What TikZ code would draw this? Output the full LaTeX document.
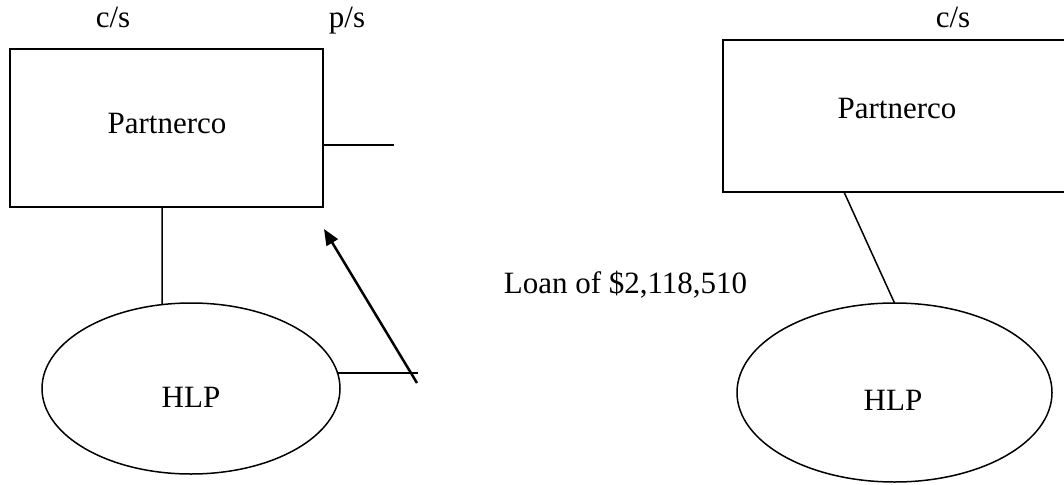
\documentclass[tikz,border=0pt]{standalone}
\usepackage{fontspec}
\setmainfont{Liberation Serif}
\usetikzlibrary{shapes.geometric,arrows.meta}
\begin{document}
\begin{tikzpicture}[x=1pt,y=-1pt,
  font=\fontsize{31}{37}\selectfont,
  shapeline/.style={line width=1.5pt},
  boxshape/.style={draw,shapeline,rectangle,inner sep=0pt,outer sep=0pt},
  ovalshape/.style={draw,shapeline,ellipse,inner sep=0pt,outer sep=0pt},
  lbl/.style={anchor=base,inner sep=0pt},
  link/.style={line width=1.5pt},
  bigarrow/.style={line width=2.5pt,-{Triangle[length=16pt,width=13pt]}}]
\useasboundingbox (0,0) rectangle (1064,484);
\clip (0,0) rectangle (1064,484);
% shapes
\node[boxshape,minimum width=313pt,minimum height=158pt] (lbox) at (166.5,128) {};
\node[boxshape,minimum width=350pt,minimum height=152pt] (rbox) at (898,116) {};
\node[ovalshape,minimum width=298pt,minimum height=171pt] (lhlp) at (191,388.5) {};
\node[ovalshape,minimum width=315pt,minimum height=179pt] (rhlp) at (894.5,392.5) {};
% texts
\node[lbl] (lcs) at (113,28) {c/s};
\node[lbl] (lps) at (347,28) {p/s};
\node[lbl] (rcs) at (953,28) {c/s};
\node[lbl] (lpart) at (167,133) {Partnerco};
\node[lbl] (rpart) at (897,118) {Partnerco};
\node[lbl] (lhlpt) at (191,407) {HLP};
\node[lbl] (rhlpt) at (893,410) {HLP};
\node[lbl] (loan) at (625.5,293) {Loan of \$2,118,510};
% connectors
\coordinate (pstub) at (394,145);
\coordinate (lstem) at (162,0);
\coordinate (rstem) at (844,0);
\coordinate (hstub) at (418,374);
\coordinate (atail) at (417,383);
\coordinate (ahead) at (324,229);
\draw[link] (lbox.east |- pstub) -- (pstub);
\draw[link] (lbox.south -| lstem) -- (lhlp.109);
\draw[link] (rbox.south -| rstem) -- (rhlp.north);
\draw[link] (lhlp.6) -- (lhlp.6 -| hstub);
\draw[bigarrow] (atail) -- (ahead);
\end{tikzpicture}
\end{document}
